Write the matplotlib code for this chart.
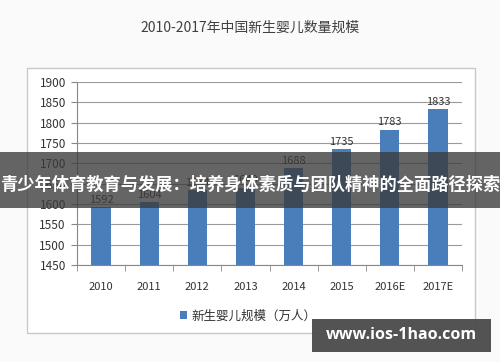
"""Bar chart of newborn counts in China, 2010-2017."""

import matplotlib
matplotlib.use('Agg')
import matplotlib.pyplot as plt
from matplotlib.patches import Rectangle

plt.rcParams['font.family'] = ['Noto Sans CJK SC', 'DejaVu Sans']

years = ['2010', '2011', '2012', '2013', '2014', '2015', '2016E', '2017E']
births = [1592, 1604, 1634, 1640, 1688, 1735, 1783, 1833]
y_ticks = [1450, 1500, 1550, 1600, 1650, 1700, 1750, 1800, 1850, 1900]

title = '2010-2017年中国新生婴儿数量规模'
series_name = '新生婴儿规模（万人）'
banner = '青少年体育教育与发展：培养身体素质与团队精神的全面路径探索'
watermark = 'www.ios-1hao.com'

W, H = 500, 362


def main():
    fig = plt.figure(figsize=(W / 100, H / 100), dpi=100)
    fig.patch.set_facecolor('#fafafa')

    # chart frame
    fig.patches.append(Rectangle(
        (27 / W, 1 - 333 / H), 448 / W, 265 / H, transform=fig.transFigure,
        facecolor='white', edgecolor='#c8c8c8', linewidth=1.0, zorder=-5
    ))

    fig.text(0.5, 1 - 28 / H, title, ha='center', va='center',
             fontsize=10, color='#404040')

    ax = fig.add_axes([77 / W, 1 - 265 / H, 385 / W, 183 / H])
    ax.set_zorder(2)
    ax.set_facecolor('white')
    x = range(len(years))
    bars = ax.bar(x, births, width=0.4, color='#4a7ebb', zorder=3,
                  label=series_name)
    for xi, v in zip(x, births):
        ax.text(xi, v + 6, str(v), ha='center', va='bottom',
                fontsize=8, color='#333333', zorder=4)

    ax.set_ylim(1450, 1900)
    ax.set_xlim(-0.5, len(years) - 0.5)
    ax.set_yticks(y_ticks)
    ax.yaxis.grid(True, color='#9a9a9a', linewidth=0.8, zorder=1)
    ax.set_axisbelow(True)
    ax.set_xticks(list(x))
    ax.set_xticklabels(years)
    ax.set_xticks([i + 0.5 for i in range(-1, len(years))], minor=True)
    ax.tick_params(axis='x', which='major', length=0, pad=12,
                   labelsize=8, labelcolor='#333333')
    ax.tick_params(axis='x', which='minor', length=4, color='#888888',
                   direction='out')
    ax.tick_params(axis='y', length=4, color='#888888', labelsize=8.5,
                   labelcolor='#333333', pad=4)
    for side in ('top', 'right'):
        ax.spines[side].set_visible(False)
    for side in ('left', 'bottom'):
        ax.spines[side].set_color('#888888')

    leg = fig.legend(handles=[bars], loc='center', frameon=False,
                     bbox_to_anchor=(248 / W, 1 - 316 / H), fontsize=9,
                     handlelength=0.6, handleheight=0.6, handletextpad=0.3,
                     labelcolor='#333333')
    leg.set_zorder(3)

    # overlay banner
    fig.patches.append(Rectangle(
        (0, 1 - 208 / H), 1, 56 / H, transform=fig.transFigure,
        facecolor='#3a3a3a', alpha=0.78, edgecolor='none', zorder=10
    ))
    fig.text(0.5, 1 - 185 / H, banner, ha='center', va='center',
             fontsize=12.4, fontweight='bold', color='white', zorder=11)

    # watermark box
    fig.patches.append(Rectangle(
        (312 / W, 1 - 352 / H), 179 / W, 33 / H, transform=fig.transFigure,
        facecolor='#4a4a4a', alpha=0.95, edgecolor='none', zorder=10
    ))
    fig.text(401 / W, 1 - 335 / H, watermark, ha='center', va='center',
             fontsize=11.5, fontweight='bold', color='white', zorder=11,
             family=['Open Sans', 'DejaVu Sans'])

    fig.savefig('out.png', dpi=100, facecolor=fig.get_facecolor())


if __name__ == '__main__':
    main()
